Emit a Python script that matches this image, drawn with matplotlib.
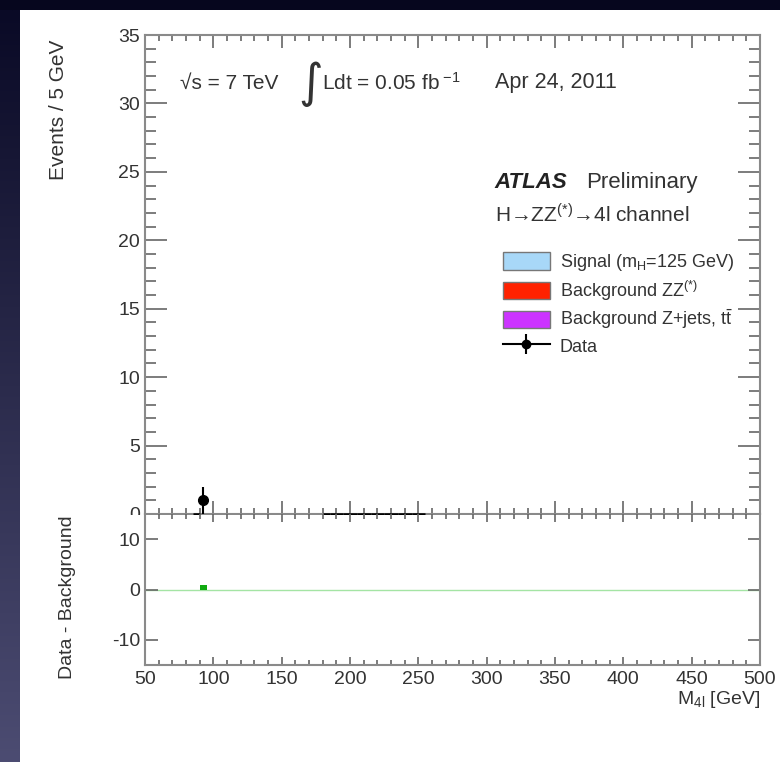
import numpy as np
import matplotlib
matplotlib.use("Agg")
import matplotlib.pyplot as plt
from matplotlib.patches import Patch, Rectangle
from matplotlib.lines import Line2D
from matplotlib.ticker import MultipleLocator, FixedLocator

plt.rcParams['font.family'] = ['Liberation Sans', 'DejaVu Sans']
plt.rcParams['mathtext.fontset'] = 'custom'
plt.rcParams['mathtext.rm'] = 'Liberation Sans'
plt.rcParams['mathtext.it'] = 'Liberation Sans:italic'
plt.rcParams['mathtext.bf'] = 'Liberation Sans:bold'
plt.rcParams['axes.unicode_minus'] = False

# =============================================================================
# DATA: m4l in 5 GeV bins
data_x = [92.5]
data_y = [1]
data_yerr = [1.0]
# bins with zero events that are still drawn (horizontal bar on the axis)
empty_x = [87.5, 182.5, 187.5, 192.5, 197.5, 202.5, 207.5, 212.5, 217.5,
           222.5, 227.5, 232.5, 237.5, 242.5, 247.5, 252.5]
empty_y = [0, 0, 0, 0, 0, 0, 0, 0, 0, 0, 0, 0, 0, 0, 0, 0]
bin_half = 2.5

# data - background
diff_x = [92.5]
diff_y = [0.8]

legend_labels = [r"Signal (m$_{\mathrm{H}}$=125 GeV)",
                 r"Background ZZ$^{(*)}$",
                 r"Background Z+jets, t$\bar{\mathrm{t}}$",
                 "Data"]
legend_colors = ['#a8d8f8', '#ff2200', '#cc33ff']

TXT = '#333333'
AXC = '#8a8a8a'

# =============================================================================
# FIGURE + slide background
fig = plt.figure(figsize=(7.8, 7.62), dpi=100)
fig.patch.set_facecolor('#06061e')
fig.add_artist(Rectangle((20 / 780, 0), 760 / 780, 752 / 762,
                         transform=fig.transFigure, facecolor='white',
                         edgecolor='none', zorder=-10))
gax = fig.add_axes([0, 0, 20 / 780, 752 / 762])
top_c = np.array([10, 10, 38]) / 255
bot_c = np.array([76, 76, 114]) / 255
t = np.linspace(0, 1, 256)[:, None]
grad = (top_c[None, :] * (1 - t) + bot_c[None, :] * t)[:, None, :]
gax.imshow(grad, aspect='auto', extent=[0, 1, 0, 1])
gax.set_axis_off()

ax = fig.add_axes([145 / 780, 1 - 514 / 762, 615 / 780, 479 / 762])
ax.set_zorder(0)
# lower pad covers the bottom of the upper pad (like ROOT)
fig.add_artist(Rectangle((20 / 780, 0), 760 / 780, 1 - 514.5 / 762,
                         transform=fig.transFigure, facecolor='white',
                         edgecolor='none', zorder=0.5))
axr = fig.add_axes([145 / 780, 1 - 665 / 762, 615 / 780, 151 / 762])
axr.set_zorder(1)

# =============================================================================
# UPPER PANEL
ax.errorbar(empty_x, empty_y, xerr=bin_half, fmt='none', ecolor='black',
            elinewidth=1.8, clip_on=False, zorder=3)
ax.errorbar(data_x, data_y, yerr=data_yerr, xerr=bin_half, fmt='o',
            color='black', ms=7, elinewidth=1.5, capsize=0,
            clip_on=False, zorder=4)

ax.set_xlim(50, 500)
ax.set_ylim(0, 35)
ax.xaxis.set_major_locator(MultipleLocator(50))
ax.xaxis.set_minor_locator(MultipleLocator(10))
ax.yaxis.set_major_locator(MultipleLocator(5))
ax.yaxis.set_minor_locator(MultipleLocator(1))
ax.tick_params(which='both', direction='in', top=True, right=True,
               labelbottom=False, color='#666666', labelcolor=TXT,
               labelsize=14, width=1.2)
ax.tick_params(axis='x', which='major', length=9.5)
ax.tick_params(axis='x', which='minor', length=4.5)
ax.tick_params(axis='y', which='major', length=16, pad=3.5)
ax.tick_params(axis='y', which='minor', length=8)
for s in ax.spines.values():
    s.set_color(AXC)
    s.set_linewidth(1.5)

ax.text(0.057, 0.90, "\u221as = 7 TeV", transform=ax.transAxes,
        fontsize=15, color=TXT, va='center', ha='left')
ax.text(0.250, 0.897, "\u222b", transform=ax.transAxes, fontsize=34,
        color=TXT, va='center', ha='left', family='DejaVu Sans')
ax.text(0.288, 0.90, r"Ldt = 0.05 fb$^{\,\,\mathrm{-1}}$",
        transform=ax.transAxes, fontsize=15, color=TXT, va='center',
        ha='left')
ax.text(0.569, 0.90, "Apr 24, 2011", transform=ax.transAxes,
        fontsize=15.5, color=TXT, va='center', ha='left')
ax.text(0.569, 0.693, "ATLAS", transform=ax.transAxes, fontsize=16,
        fontweight='bold', style='italic', color='#222222', va='center')
ax.text(0.717, 0.693, "Preliminary", transform=ax.transAxes, fontsize=16,
        color=TXT, va='center')
ax.text(0.569, 0.625, "H\u2192ZZ$^{(*)}$\u21924l channel",
        transform=ax.transAxes, fontsize=15, color=TXT, va='center')

data_handle = (Line2D([], [], color='black', lw=1.5),
               Line2D([], [], color='black', marker='o', ms=6, ls='none'),
               Line2D([], [], color='black', marker='|', ms=15, mew=1.5,
                      ls='none'))
handles = [Patch(facecolor=c, edgecolor='#777777', linewidth=1)
           for c in legend_colors] + [data_handle]
ax.legend(handles, legend_labels, loc='upper left',
          bbox_to_anchor=((503 - 145) / 615, (514 - 252) / 479),
          frameon=False, fontsize=13, borderpad=0, borderaxespad=0,
          handlelength=2.6, handleheight=1.1, labelspacing=0.3,
          handletextpad=0.55, labelcolor=TXT)

# =============================================================================
# LOWER PANEL
axr.axhline(0, color='#a4e4a4', lw=1, zorder=1)
axr.bar(diff_x, diff_y, width=2 * bin_half, color='#11aa11', zorder=2)
axr.set_xlim(50, 500)
axr.set_ylim(-15, 15)
axr.xaxis.set_major_locator(MultipleLocator(50))
axr.xaxis.set_minor_locator(MultipleLocator(10))
axr.yaxis.set_major_locator(FixedLocator([-10, 0, 10]))
axr.tick_params(which='both', direction='in', top=True, right=True,
                color='#666666', labelcolor=TXT, labelsize=14, width=1.2)
axr.tick_params(axis='x', which='major', length=6, pad=4)
axr.tick_params(axis='x', which='minor', length=3.5)
axr.tick_params(axis='y', which='major', length=9, pad=3.5)
for s in axr.spines.values():
    s.set_color(AXC)
    s.set_linewidth(1.5)
axr.spines['top'].set_visible(False)
axr.patch.set_alpha(0)

fig.text(58 / 780, 1 - 40 / 762, "Events / 5 GeV", rotation=90, ha='center',
         va='top', fontsize=15, color=TXT)
fig.text(68 / 780, 1 - 515 / 762, "Data - Background", rotation=90,
         ha='center', va='top', fontsize=14, color=TXT)
fig.text(760 / 780, 1 - 699 / 762, r"M$_{\mathrm{4l}}$ [GeV]", ha='right',
         va='center', fontsize=14, color=TXT)

fig.savefig("out.png", dpi=100, facecolor=fig.get_facecolor())
